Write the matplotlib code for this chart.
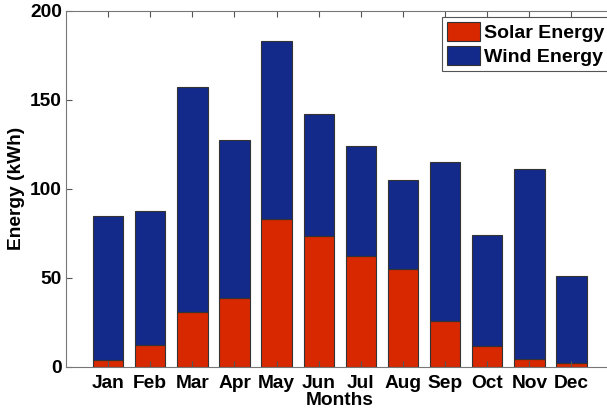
import matplotlib
matplotlib.use("Agg")
import matplotlib.pyplot as plt
import numpy as np

plt.rcParams['font.family'] = ['Liberation Sans', 'DejaVu Sans']

months = ["Jan", "Feb", "Mar", "Apr", "May", "Jun", "Jul", "Aug", "Sep", "Oct", "Nov", "Dec"]
solar = [3.9, 12.2, 30.9, 38.8, 83.1, 73.4, 62.4, 54.7, 25.8, 11.8, 4.5, 2.2]
total = [84.8, 87.5, 157.3, 127.2, 182.8, 142.1, 124.0, 104.9, 114.8, 74.2, 110.9, 51.1]
wind = [t - s for t, s in zip(total, solar)]

red = "#d82800"
blue = "#142a8a"

fig = plt.figure(figsize=(6.07, 4.11), dpi=100)
W, H = 607, 411
left, right, top, bottom = 66, 613.6, 10.7, 366.7
ax = fig.add_axes([left / W, 1 - bottom / H, (right - left) / W, (bottom - top) / H])

x = np.arange(1, len(months) + 1)
ax.bar(x, solar, width=0.72, color=red, edgecolor="#333333", linewidth=0.8, label="Solar Energy")
ax.bar(x, wind, width=0.72, bottom=solar, color=blue, edgecolor="#333333", linewidth=0.8, label="Wind Energy")

ax.set_xlim(0, 13)
ax.set_ylim(0, 200)
ax.set_xticks(x)
ax.set_xticklabels(months)
ax.set_yticks([0, 50, 100, 150, 200])
ax.tick_params(direction="in", top=True, right=True, length=4, color="#555555", labelsize=13.8)
ax.tick_params(axis="x", pad=6)
ax.tick_params(axis="y", pad=3)
for lab in ax.get_xticklabels() + ax.get_yticklabels():
    lab.set_fontweight("bold")
for sp in ax.spines.values():
    sp.set_color("#777777")
    sp.set_linewidth(0.8)

ax.set_xlabel("Months", fontsize=13.8, fontweight="bold", labelpad=0)
ax.set_ylabel("Energy (kWh)", fontsize=13.8, fontweight="bold")
ax.yaxis.set_label_coords((25 - left) / (right - left), 0.5)

leg = ax.legend(loc="upper left", bbox_to_anchor=(442 / W, 1 - 17 / H), bbox_transform=fig.transFigure,
                prop={"size": 14, "weight": "bold"},
                fancybox=False, framealpha=1, edgecolor="#555555", handlelength=1.7,
                handleheight=1.15, handletextpad=0.2, labelspacing=0.2, borderpad=0.25,
                borderaxespad=0)
leg.get_frame().set_linewidth(0.8)

fig.savefig("out.png", dpi=100)
